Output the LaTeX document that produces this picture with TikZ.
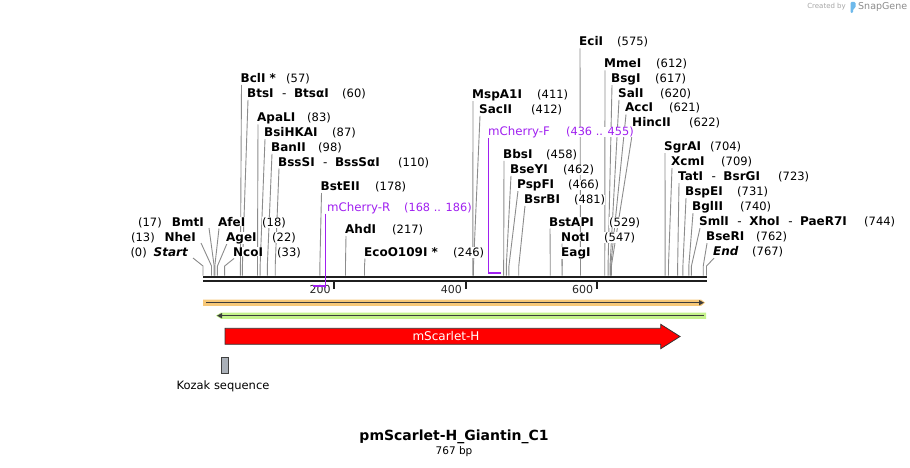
\documentclass[tikz,border=0pt]{standalone}
\usepackage{fontspec}
\setmainfont{DejaVu Sans}
\usetikzlibrary{arrows.meta}
\definecolor{primer}{RGB}{160,32,240}
\definecolor{cutgray}{RGB}{140,140,140}
\definecolor{bandorange}{RGB}{247,200,120}
\definecolor{bandgreen}{RGB}{196,242,140}
\definecolor{arrowdark}{RGB}{60,60,60}
\definecolor{kozakgray}{RGB}{170,176,184}
\definecolor{featred}{RGB}{255,0,0}
\definecolor{sglogo}{RGB}{110,185,235}
\pgfdeclarelayer{background}
\pgfsetlayers{background,main}
\newcommand\bpx[1]{203+0.6565*#1}
\newcommand\sep{\hspace{8.5pt}{\mdseries -}\hspace{7.5pt}}
\newcommand\rlab[7]{%
  \node[lbl,anchor=base west] (n#1) at (#2,#3) {#4};
  \node[numtxt,anchor=base west] (p#1) at (#5,#3) {#6};
  \coordinate (s#1) at ({\bpx{#7}},266);
  \coordinate (b#1) at ({\bpx{#7}},275.5);
  \begin{pgfonlayer}{background}
  \draw[cutline] ([xshift=1pt,yshift=-2.5pt]n#1.base west) -- (s#1) -- (b#1);
  \end{pgfonlayer}
}
\newcommand\llab[7]{%
  \node[lbl,anchor=base east] (n#1) at (#2,#3) {#4};
  \node[numtxt,anchor=base east] (p#1) at (#5,#3) {#6};
  \coordinate (s#1) at ({\bpx{#7}},266);
  \coordinate (b#1) at ({\bpx{#7}},275.5);
  \begin{pgfonlayer}{background}
  \draw[cutline] ([xshift=5pt,yshift=-2pt]n#1.base east) -- (s#1) -- (b#1);
  \end{pgfonlayer}
}
\tikzset{
  lbl/.style={inner sep=0pt,fill=white,font=\fontsize{12}{14}\selectfont\bfseries},
  numtxt/.style={inner sep=0pt,fill=white,font=\fontsize{11.5}{13}\selectfont},
  cutline/.style={draw=cutgray,line width=0.9pt},
  primertxt/.style={inner sep=0pt,fill=white,text=primer,font=\fontsize{11.8}{14}\selectfont},
  primernum/.style={inner sep=0pt,fill=white,text=primer,font=\fontsize{11.3}{13}\selectfont},
  primerline/.style={draw=primer,line width=1pt},
  primerbar/.style={draw=primer,line width=2pt},
  ticktxt/.style={inner sep=0pt,font=\fontsize{11}{13}\selectfont,text=black!85},
}
\begin{document}
\begin{tikzpicture}[x=1pt,y=-1pt]
\begin{pgfonlayer}{background}
\fill[white] (0,0) rectangle (910,468);
\end{pgfonlayer}
\useasboundingbox (0,0) rectangle (910,468);

% watermark
\node[inner sep=0pt,anchor=east,text=black!35,font=\fontsize{7}{8}\selectfont] (wm1) at (846,7) {Created by};
\fill[sglogo,rounded corners=1.2pt] (850.5,13) -- (850.5,2) -- (855.5,2) -- (855.5,8) -- (853,9) -- (853,13) -- cycle;
\node[inner sep=0pt,anchor=west,text=black!45,font=\fontsize{9.5}{10}\selectfont] (wm2) at (858,7) {SnapGene};

% sequence bar
\draw[line width=2.6pt,draw=black!88] (203,277) -- (706.5,277);
\draw[line width=1.8pt,draw=black!88] (203,281) -- (706.5,281);

% ticks
\foreach \t in {200,400,600}{
  \draw[line width=2pt,draw=black!88] ({\bpx{\t}},281) -- ({\bpx{\t}},289);
  \begin{pgfonlayer}{background}
  \node[ticktxt,anchor=base east] (tick\t) at ({\bpx{\t}-3.5},293.5) {\t};
  \end{pgfonlayer}
}

% enzymes right-side labels
\rlab{57}{240.5}{82.5}{BclI *}{286}{(57)}{57}
\rlab{60}{247}{97.3}{BtsI\sep BtsαI}{342}{(60)}{60}
\rlab{83}{257}{122}{ApaLI}{307}{(83)}{83}
\rlab{87}{264}{136.7}{BsiHKAI}{332}{(87)}{87}
\rlab{98}{271}{151.3}{BanII}{318}{(98)}{98}
\rlab{110}{278}{166}{BssSI\sep BssSαI}{398}{(110)}{110}
\rlab{178}{320.5}{190.5}{BstEII}{375}{(178)}{178}
\rlab{217}{345}{233.5}{AhdI}{392}{(217)}{217}
\rlab{246}{364}{256}{EcoO109I *}{453}{(246)}{246}
\rlab{18}{218}{226}{AfeI}{262}{(18)}{18}
\rlab{22}{226}{241}{AgeI}{272}{(22)}{22}
\rlab{33}{233}{256}{NcoI}{277}{(33)}{33}
\rlab{411}{472}{98.3}{MspA1I}{537}{(411)}{411}
\rlab{412}{479}{113.3}{SacII}{531}{(412)}{412}
\rlab{458}{503}{158.3}{BbsI}{546}{(458)}{458}
\rlab{462}{510}{173.3}{BseYI}{563}{(462)}{462}
\rlab{466}{517}{188.3}{PspFI}{568}{(466)}{466}
\rlab{481}{524}{203.3}{BsrBI}{574}{(481)}{481}
\rlab{529}{549}{226}{BstAPI}{609}{(529)}{529}
\rlab{547}{561}{241}{NotI}{604}{(547)}{547}
\node[lbl,anchor=base west] (nEag) at (561,256) {EagI};
\begin{pgfonlayer}{background}
\draw[cutline] ([xshift=1pt,yshift=-2.5pt]nEag.base west) -- (s547);
\end{pgfonlayer}
\rlab{575}{579}{46}{EciI}{617}{(575)}{575}
\rlab{612}{604}{68}{MmeI}{656}{(612)}{612}
\rlab{617}{611}{82.7}{BsgI}{655}{(617)}{617}
\rlab{620}{618}{97.4}{SalI}{660}{(620)}{620}
\rlab{621}{625}{112}{AccI}{669}{(621)}{621}
\rlab{622}{632}{126.7}{HincII}{689}{(622)}{622}
\rlab{704}{664}{150.7}{SgrAI}{710}{(704)}{704}
\rlab{709}{671}{165.7}{XcmI}{721}{(709)}{709}
\rlab{723}{678}{180.7}{TatI\sep BsrGI}{778}{(723)}{723}
\rlab{731}{685}{195.7}{BspEI}{737}{(731)}{731}
\rlab{740}{692}{210.7}{BglII}{740}{(740)}{740}
\rlab{744}{699}{225.7}{SmlI\sep XhoI\sep PaeR7I}{864}{(744)}{744}
\rlab{762}{706}{240.7}{BseRI}{756}{(762)}{762}
\rlab{767}{713}{255.7}{\itshape End}{752}{(767)}{767}
% left-side labels
\llab{17}{204}{226}{BmtI}{162}{(17)}{17}
\llab{13}{196}{241}{NheI}{155}{(13)}{13}
\llab{0}{188}{256}{\itshape Start}{147}{(0)}{0}

% primers
\node[primertxt,anchor=base west] (mcr) at (327,211) {mCherry-R};
\node[primernum,anchor=base west] (mcrn) at (404,211) {(168 .. 186)};
\coordinate (mcrTop) at ({\bpx{186}},213.5);
\coordinate (mcrBot) at ({\bpx{186}},288.3);
\coordinate (mcrA) at ({\bpx{168}},285.7);
\coordinate (mcrB) at ({\bpx{186}},285.7);
\draw[primerline] (mcrTop) -- (mcrBot);
\draw[primerbar] (mcrA) -- (mcrB);

\node[primertxt,anchor=base west] (mcf) at (488,135.7) {mCherry-F};
\node[primernum,anchor=base west] (mcfn) at (566,135.7) {(436 .. 455)};
\coordinate (mcfTop) at ({\bpx{436}-0.8},138.5);
\coordinate (mcfBot) at ({\bpx{436}-0.8},273.5);
\coordinate (mcfA) at ({\bpx{436}-0.8},272.5);
\coordinate (mcfB) at ({\bpx{455}-0.8},272.5);
\draw[primerline] (mcfTop) -- (mcfBot);
\draw[primerbar] (mcfA) -- (mcfB);

% direction bands
\fill[bandorange] (203,299.5) -- (701,299.5) -- (705,302.7) -- (701,305.9) -- (203,305.9) -- cycle;
\coordinate (orL) at (206,302.7);
\coordinate (orR) at (704,302.7);
\draw[draw=arrowdark,line width=1.3pt,-{Triangle[length=5pt,width=5pt]}] (orL) -- (orR);
\fill[bandgreen] (706,312.5) -- (221,312.5) -- (216,315.7) -- (221,318.9) -- (706,318.9) -- cycle;
\coordinate (grR) at (704,315.7);
\coordinate (grL) at (217,315.7);
\draw[draw=arrowdark,line width=1.3pt,-{Triangle[length=5pt,width=5pt]}] (grR) -- (grL);

% feature mScarlet-H
\draw[fill=featred,draw=black!80,line width=0.8pt] (225,328.3) -- (660.7,328.3) -- (660.7,324.3) -- (680,336.5) -- (660.7,348.7) -- (660.7,344.3) -- (225,344.3) -- cycle;
\node[inner sep=0pt,text=white,font=\fontsize{12}{14}\selectfont] (msc) at (446,336.3) {mScarlet-H};

% Kozak
\draw[fill=kozakgray,draw=black!75,line width=0.7pt] (221.7,357.3) rectangle (228.7,373.3);
\node[inner sep=0pt,font=\fontsize{11.5}{13}\selectfont] (kozak) at (223,386) {Kozak sequence};

% title
\node[inner sep=0pt,font=\fontsize{14}{16}\selectfont\bfseries] (title) at (454,437) {pmScarlet-H\_Giantin\_C1};
\node[inner sep=0pt,font=\fontsize{10.5}{12}\selectfont] (bp) at (454,452) {767 bp};
\end{tikzpicture}
\end{document}
